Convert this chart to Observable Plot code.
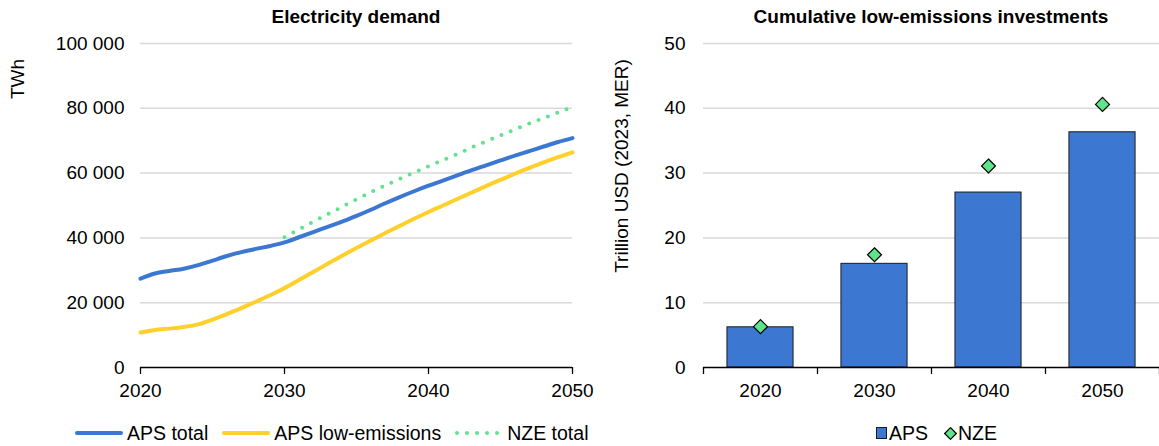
<!DOCTYPE html>
<html><head><meta charset="utf-8">
<script src="https://cdn.jsdelivr.net/npm/d3@7"></script>
<script src="https://cdn.jsdelivr.net/npm/@observablehq/plot@0.6"></script>
<style>
body{margin:0;background:#fff;font-family:"Liberation Sans",Arial,sans-serif;color:#000}
#wrap{position:relative;width:1159px;height:446px;overflow:hidden}
.title{position:absolute;top:0;height:34px;line-height:34px;font-weight:bold;font-size:19px;text-align:center}
.ylab{position:absolute;font-size:19px;transform:translate(-50%,-50%) rotate(-90deg);white-space:nowrap}
.legend{position:absolute;top:420px;height:26px;display:flex;align-items:center;font-size:19.5px;white-space:nowrap}
.legend svg{display:block}
.box{position:absolute;top:30px}
</style>
</head><body>
<div id="wrap">
  <div class="title" style="left:140px;width:432px">Electricity demand</div>
  <div class="title" style="left:703px;width:456px">Cumulative low-emissions investments</div>
  <div class="ylab" style="left:18px;top:79px">TWh</div>
  <div class="ylab" style="left:622px;top:166px">Trillion USD (2023, MER)</div>
  <div class="box" id="left" style="left:0"></div>
  <div class="box" id="right" style="left:600px"></div>
  <div class="legend" id="legL" style="left:75px"></div>
  <div class="legend" id="legR" style="left:876px"></div>
</div>
<script>
// ---- Data ----
const years = [2020,2021,2022,2023,2024,2025,2026,2027,2028,2029,2030,2031,2032,2033,2034,2035,2036,2037,2038,2039,2040,2041,2042,2043,2044,2045,2046,2047,2048,2049,2050];
const apsTotal = [27400,29000,29800,30500,31600,33000,34400,35600,36600,37500,38600,40200,41800,43400,45000,46800,48700,50700,52600,54400,56100,57700,59300,60900,62400,63900,65400,66800,68200,69600,70800];
const apsLowEmissions = [10800,11600,12000,12500,13300,14800,16500,18300,20300,22300,24500,27000,29500,32000,34500,36900,39200,41500,43700,45900,48000,50000,52000,54000,56000,57900,59800,61600,63300,64900,66400];
const nzeYears = [2030,2031,2032,2033,2034,2035,2036,2037,2038,2039,2040,2041,2042,2043,2044,2045,2046,2047,2048,2049,2050];
const nzeTotal = [40200,42600,45000,47300,49600,51900,54100,56200,58200,60200,62100,64000,65900,67900,69800,71600,73500,75300,77000,78700,80400];
const demandTicks = [0,20000,40000,60000,80000,100000];
const yearTicks = [2020,2030,2040,2050];

const invYears = [2020,2030,2040,2050];
const invAPS = [6.2,16.0,27.0,36.3];
const invNZE = [6.3,17.4,31.1,40.6];
const invTicks = [0,10,20,30,40,50];

// ---- Styles ----
const BLUE = "#3c78d1", YELLOW = "#ffd02b", GREEN = "#5fe38b", GRID = "#d9d9d9";
const FONT = '"Liberation Sans", Arial, sans-serif';
const fmt = d => d3.format(",")(d).replace(/,/g, " ");

const tot = years.map((y,i)=>({year:y, v:apsTotal[i]}));
const low = years.map((y,i)=>({year:y, v:apsLowEmissions[i]}));
const nze = nzeYears.map((y,i)=>({year:y, v:nzeTotal[i]}));

const left = Plot.plot({
  width: 600, height: 380,
  marginLeft: 140, marginRight: 28, marginTop: 13, marginBottom: 43,
  style: {fontFamily: FONT, fontSize: "19px", color: "#000", background: "transparent"},
  x: {domain: [2020, 2050]},
  y: {domain: [0, 100000]},
  marks: [
    Plot.gridY(demandTicks.filter(d => d > 0), {stroke: GRID, strokeOpacity: 1, strokeWidth: 1.5}),
    Plot.axisY({ticks: demandTicks, tickSize: 0, tickPadding: 16, tickFormat: fmt, label: null}),
    Plot.axisX({ticks: yearTicks, tickSize: 7, tickPadding: 9, tickFormat: d => String(d), label: null, stroke: "#000", strokeWidth: 1.3}),
    Plot.ruleY([0], {stroke: "#000", strokeWidth: 1.5}),
    Plot.line(low, {x: "year", y: "v", stroke: YELLOW, strokeWidth: 4, curve: "monotone-x"}),
    Plot.line(tot, {x: "year", y: "v", stroke: BLUE, strokeWidth: 4, curve: "monotone-x"}),
    Plot.line(nze, {x: "year", y: "v", stroke: GREEN, strokeWidth: 4, strokeDasharray: "0 10", strokeLinecap: "round", curve: "monotone-x"})
  ]
});
document.getElementById("left").append(left);

const inv = invYears.map((y,i)=>({year:y, aps:invAPS[i], nze:invNZE[i]}));
const step = invYears[1] - invYears[0];
const bounds = invYears.map(y => y - step/2).concat([invYears[invYears.length-1] + step/2]);
const half = step * 0.29;

const right = Plot.plot({
  width: 559, height: 380,
  marginLeft: 103, marginRight: 0, marginTop: 13, marginBottom: 43,
  style: {fontFamily: FONT, fontSize: "19px", color: "#000", background: "transparent"},
  x: {domain: [bounds[0], bounds[bounds.length-1]]},
  y: {domain: [0, 50]},
  marks: [
    Plot.gridY(invTicks.filter(d => d > 0), {stroke: GRID, strokeOpacity: 1, strokeWidth: 1.5}),
    Plot.axisY({ticks: invTicks, tickSize: 0, tickPadding: 18, label: null}),
    Plot.axisX({ticks: invYears, tickSize: 0, tickPadding: 16, tickFormat: d => String(d), label: null}),
    Plot.axisX({ticks: bounds, tickSize: 7, tickFormat: () => "", label: null, stroke: "#000", strokeWidth: 1.3}),
    Plot.rectY(inv, {x1: d => d.year - half, x2: d => d.year + half, y: "aps", fill: BLUE, stroke: "#1a1a1a", strokeWidth: 1}),
    Plot.ruleY([0], {stroke: "#000", strokeWidth: 1.5}),
    Plot.dot(inv, {x: "year", y: "nze", symbol: "diamond2", r: 6.3, fill: GREEN, stroke: "#000", strokeWidth: 1.2})
  ]
});
document.getElementById("right").append(right);

// ---- Legends ----
function lineSwatch(color, dash) {
  return `<svg width="48" height="10"><line x1="2" x2="46" y1="5" y2="5" stroke="${color}" stroke-width="4" stroke-linecap="round" ${dash ? `stroke-dasharray="${dash}"` : ""}/></svg>`;
}
document.getElementById("legL").innerHTML =
  `${lineSwatch(BLUE)}<span style="margin-left:4px;margin-right:14px">APS total</span>` +
  `${lineSwatch(YELLOW)}<span style="margin-left:4px;margin-right:14px">APS low-emissions</span>` +
  `${lineSwatch(GREEN, "0 10")}<span style="margin-left:4px">NZE total</span>`;
document.getElementById("legR").innerHTML =
  `<svg width="11" height="12"><rect x="0.5" y="0.5" width="10" height="11" fill="${BLUE}" stroke="#1a1a1a"/></svg>` +
  `<span style="margin-left:2px;margin-right:16px">APS</span>` +
  `<svg width="13" height="13"><path d="M6.5 0.7 L12.3 6.5 L6.5 12.3 L0.7 6.5Z" fill="${GREEN}" stroke="#000" stroke-width="1.2"/></svg>` +
  `<span style="margin-left:1px">NZE</span>`;
</script>
</body></html>
